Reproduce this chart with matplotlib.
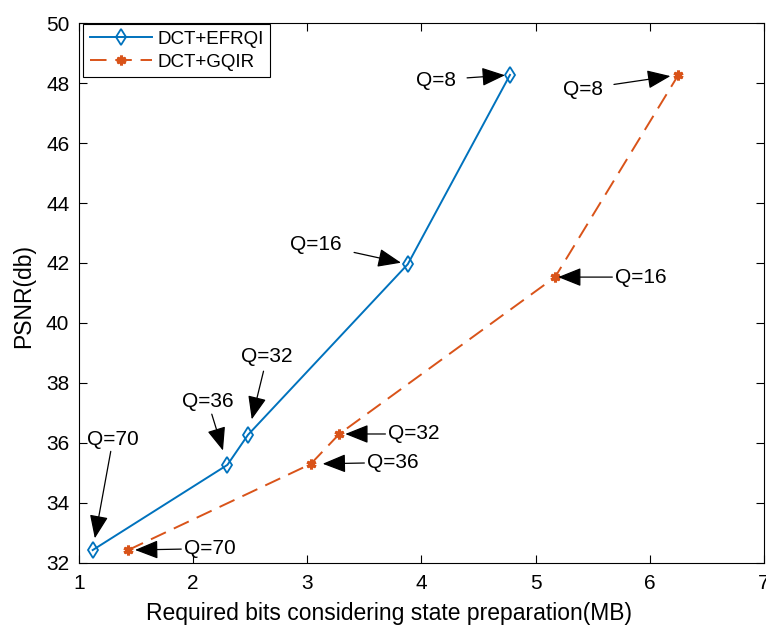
import numpy as np
import matplotlib.pyplot as plt

plt.rcParams['font.family'] = ['Liberation Sans', 'DejaVu Sans']

# data
bits_efrqi = [1.12, 2.30, 2.48, 3.88, 4.775]
psnr_efrqi = [32.43, 35.27, 36.27, 41.96, 48.27]
bits_gqir = [1.43, 3.03, 3.28, 5.17, 6.25]
psnr_gqir = [32.43, 35.30, 36.30, 41.53, 48.27]
q_labels = ['Q=70', 'Q=36', 'Q=32', 'Q=16', 'Q=8']

# label text centres (data units), one per point
efrqi_text = [(1.298, 36.13), (2.13, 37.37), (2.647, 38.87), (3.076, 42.63), (4.127, 48.10)]
gqir_text = [(2.147, 32.48), (3.75, 35.35), (3.934, 36.30), (5.922, 41.53), (5.414, 47.80)]
# gap at text end / at point end of each arrow (points)
efrqi_gap = [(0, 8.6), (0, 10.8), (1.5, 11.5), (7, 5), (6, 3.6)]
gqir_gap = [(0, 5), (0, 8.6), (0, 4.3), (0, 2.2), (6, 5.8)]

blue = '#0072BD'
orange = '#D95319'

fig = plt.figure(figsize=(7.66, 6.27), dpi=100)
ax = fig.add_axes([0.1031, 0.1021, 0.8943, 0.8612])

ax.plot(bits_efrqi, psnr_efrqi, '-', color=blue, lw=1.4, marker='d',
        ms=8, mfc='none', mec=blue, mew=1.3, label='DCT+EFRQI')
ax.plot(bits_gqir, psnr_gqir, '--', color=orange, lw=1.4, dashes=(8.5, 4.5),
        marker=(6, 2, 0), ms=7, mec=orange, mew=2.2, label='DCT+GQIR')


def add_labels(xs, ys, texts, gaps):
    for i in range(len(q_labels)):
        ap = dict(arrowstyle='-|>,head_length=0.9,head_width=0.36', color='k',
                  lw=0.9, mutation_scale=16, shrinkA=gaps[i][0], shrinkB=gaps[i][1])
        ax.annotate(q_labels[i], xy=(xs[i], ys[i]), xytext=texts[i],
                    ha='center', va='center', fontsize=15, arrowprops=ap)


add_labels(bits_efrqi, psnr_efrqi, efrqi_text, efrqi_gap)
add_labels(bits_gqir, psnr_gqir, gqir_text, gqir_gap)

ax.set_xlim(1, 7)
ax.set_ylim(32, 50)
ax.set_xticks(np.arange(1, 8, 1))
ax.set_yticks(np.arange(32, 51, 2))
ax.tick_params(direction='in', top=True, right=True, labelsize=15,
               length=6, width=0.8)
ax.tick_params(axis='x', pad=8)
ax.tick_params(axis='y', pad=7)
for s in ax.spines.values():
    s.set_linewidth(0.8)

ax.set_xlabel('Required bits considering state preparation(MB)', fontsize=16.5)
ax.set_ylabel('PSNR(db)', fontsize=16.5)
ax.xaxis.set_label_coords(0.4526, -0.072)
ax.yaxis.set_label_coords(-0.064, 0.494)

leg = ax.legend(loc='upper left', bbox_to_anchor=(0.006, 0.998), fontsize=13.5,
                fancybox=False, edgecolor='k', framealpha=1, borderaxespad=0,
                handlelength=3.3, handletextpad=0.3, borderpad=0.35,
                labelspacing=0.3)
leg.get_frame().set_linewidth(0.8)

fig.savefig('out.png', dpi=100)
